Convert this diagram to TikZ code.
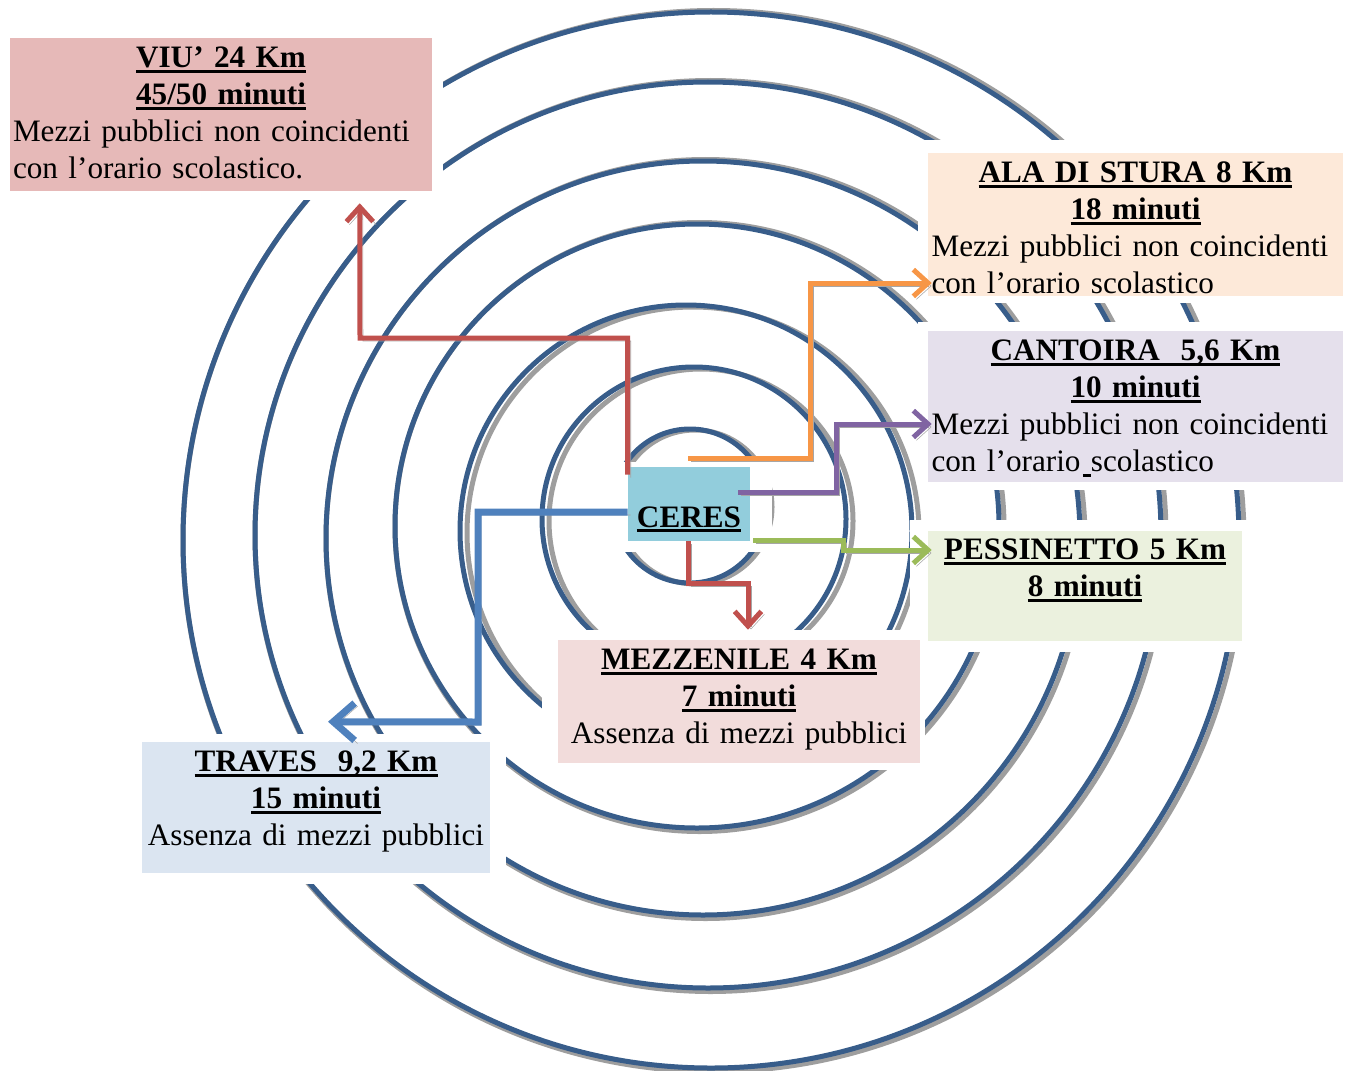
\documentclass[tikz,border=0pt]{standalone}
\usepackage{fontspec}
\setmainfont{Liberation Serif}
\usetikzlibrary{arrows.meta}
\setlength{\parindent}{0pt}

\definecolor{ringblue}{HTML}{385D8A}
\definecolor{viufill}{HTML}{E6B9B8}
\definecolor{alafill}{HTML}{FDE9D9}
\definecolor{cantfill}{HTML}{E5E0EC}
\definecolor{pessfill}{HTML}{EBF1DE}
\definecolor{mezzfill}{HTML}{F2DCDB}
\definecolor{travfill}{HTML}{DBE5F1}
\definecolor{ceresfill}{HTML}{92CDDC}
\definecolor{arrred}{HTML}{C0504D}
\definecolor{arrorange}{HTML}{F79646}
\definecolor{arrpurple}{HTML}{8064A2}
\definecolor{arrgreen}{HTML}{9BBB59}
\definecolor{arrblue}{HTML}{4F81BD}

\newsavebox{\titlebox}
\newcommand{\boxtitle}[1]{\leavevmode\sbox{\titlebox}{\textbf{#1}}%
  \rlap{\rule[-4pt]{\wd\titlebox}{2.2pt}}\usebox{\titlebox}}

\begin{document}
\begin{tikzpicture}[
    x=0.75pt, y=-0.75pt,
    ring/.style={draw=ringblue, line width=3.75pt},
    ringshadow/.style={draw=black!38, line width=3.75pt},
    mask/.style={fill=white},
    place/.style={rectangle, inner sep=0pt},
    caption/.style={anchor=base, inner sep=0pt, font=\fontsize{23.4}{27.75}\selectfont},
    conn/.style={line width=3.75pt, -{Straight Barb[length=11pt,width=20pt]},
        preaction={draw=black!35, transform canvas={shift={(3,3)}}}}
]
\useasboundingbox (0,0) rectangle (1351,1070);

% rings round Ceres
\foreach \cx/\cy/\r/\sx/\sy/\sr in {690/506/77/5/1/0, 694/519/152/7/2/0,
    686/531/226/7/2/0, 697/526/302/2.5/1/2.5, 703/538/377/2.5/1/2.5,
    708/535/453/2.5/1/2.5, 711/540/528/2.5/1/2.5} {
  \draw[ringshadow] (\cx+\sx,\cy+\sy) circle[radius=\r+\sr];
  \draw[ring] (\cx,\cy) circle[radius=\r];
}

% white space round the boxes
\fill[mask] (0,0) rectangle (443,200);
\fill[mask] (918,140) rectangle (1351,303);
\fill[mask] (918,322) rectangle (1351,490);
\fill[mask] (910,520) rectangle (1260,652);
\fill[mask] (542,630) rectangle (925,770);
\fill[mask] (135,734) rectangle (506,884);
\fill[mask] (600,462) rectangle (772,552);

% boxes
\node[place, fill=viufill, minimum width=316.5pt, minimum height=114.75pt] (viu) at (221,114.5) {};
\node[place, fill=alafill, minimum width=311.25pt, minimum height=107.25pt] (ala) at (1135.5,224.5) {};
\node[place, fill=cantfill, minimum width=311.25pt, minimum height=113.25pt] (cantoira) at (1135.5,406.5) {};
\node[place, fill=pessfill, minimum width=235.5pt, minimum height=82.5pt] (pessinetto) at (1085,586) {};
\node[place, fill=mezzfill, minimum width=271.5pt, minimum height=92.25pt] (mezzenile) at (739,701.5) {};
\node[place, fill=travfill, minimum width=261pt, minimum height=98.25pt] (traves) at (316,807.5) {};
\node[place, fill=ceresfill, minimum width=91.5pt, minimum height=55.5pt] (ceres) at (689,504) {};

\node[caption, text width=312pt] (viu-txt) at ([shift={(0,29.5)}]viu.north)
  {\centering\boxtitle{VIU’ 24 Km}\\\boxtitle{45/50 minuti}\par
   \raggedright Mezzi pubblici non coincidenti\\con l’orario scolastico.\par};
\node[caption, text width=306pt] (ala-txt) at ([shift={(0,29.5)}]ala.north)
  {\centering\boxtitle{ALA DI STURA 8 Km}\\\boxtitle{18 minuti}\par
   \raggedright Mezzi pubblici non coincidenti\\con l’orario scolastico\par};
\node[caption, text width=306pt] (cantoira-txt) at ([shift={(0,29.5)}]cantoira.north)
  {\centering\boxtitle{CANTOIRA\ \ 5,6 Km}\\\boxtitle{10 minuti}\par
   \raggedright Mezzi pubblici non coincidenti\\con l’orario\ \llap{\rule[-4pt]{6pt}{2.2pt}}scolastico\par};
\node[caption, text width=235.5pt] (pessinetto-txt) at ([shift={(0,28.5)}]pessinetto.north)
  {\centering\boxtitle{PESSINETTO 5 Km}\\\boxtitle{8 minuti}\par};
\node[caption, text width=271.5pt] (mezzenile-txt) at ([shift={(0,29.5)}]mezzenile.north)
  {\centering\boxtitle{MEZZENILE 4 Km}\\\boxtitle{7 minuti}\\Assenza di mezzi pubblici\par};
\node[caption, text width=261pt] (traves-txt) at ([shift={(0,29.5)}]traves.north)
  {\centering\boxtitle{TRAVES\ \ 9,2 Km}\\\boxtitle{15 minuti}\\Assenza di mezzi pubblici\par};

% connectors out of Ceres
\draw[conn, draw=arrred] ([shift={(0,8)}]ceres.north west) |- (360,338)
  -- ([shift={(350,12)}]viu.south west);
\draw[conn, draw=arrorange] ([shift={(-1,-8)}]ceres.north) -| (810,283)
  -- ([shift={(4,58.5)}]ala.west);
\draw[conn, draw=arrpurple] ([shift={(-12,-12)}]ceres.east) -| (836,424)
  -- ([shift={(4,17.5)}]cantoira.west);
\draw[conn, draw=arrgreen] ([shift={(3,-1)}]ceres.south east) -| (843,550)
  -- ([shift={(4,-36)}]pessinetto.west);
\draw[conn, draw=arrred] ([shift={(-1,0)}]ceres.south) |- (748,583)
  -- ([shift={(9,-10)}]mezzenile.north);
\draw[conn, draw=arrblue, line width=5.25pt, -{Straight Barb[length=16pt,width=28pt]}]
  ([shift={(0,8)}]ceres.west) -| (478,722) -- ([shift={(12,-20)}]traves.north);

\node[caption] (ceres-txt) at ([shift={(0,23)}]ceres.center) {\boxtitle{CERES}};
\end{tikzpicture}
\end{document}
